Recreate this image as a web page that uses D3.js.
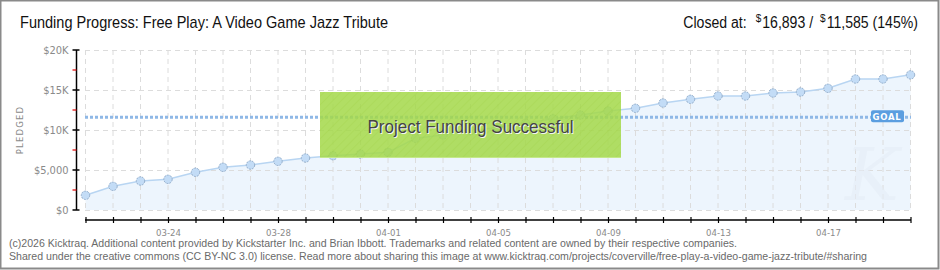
<!DOCTYPE html>
<html lang="en">
<head>
    <meta charset="UTF-8">
    <title>Kicktraq - Funding Progress</title>
    <script src="https://d3js.org/d3.v7.min.js"></script>
    <style>
        body { margin: 0; background: #fff; }
        svg { display: block; }
    </style>
</head>
<body>
    <script>
        // ---------- data ----------
        let days = ["03-21","03-22","03-23","03-24","03-25","03-26","03-27","03-28","03-29","03-30","03-31",
                    "04-01","04-02","04-03","04-04","04-05","04-06","04-07","04-08","04-09","04-10",
                    "04-11","04-12","04-13","04-14","04-15","04-16","04-17","04-18","04-19","04-20"];
        let pledged = [1837, 2962, 3625, 3837, 4712, 5337, 5625, 6087, 6500, 6787, 7000,
                       7212, 8962, 9375, 9912, 10350, 10850, 11400, 11875, 12375, 12712,
                       13375, 13837, 14250, 14250, 14625, 14750, 15212, 16375, 16375, 16893];
        let goal = 11585;
        let yTicks = [0, 5000, 10000, 15000, 20000];
        let yTickLabels = ["$0", "$5,000", "$10K", "$15K", "$20K"];
        let yMinor = [2500, 7500, 12500, 17500];
        let xLabelDays = ["03-24", "03-28", "04-01", "04-05", "04-09", "04-13", "04-17"];

        let W = 940, H = 270;
        let svg = d3.select("body").append("svg")
                    .attr("width", W)
                    .attr("height", H);

        // outer frame
        svg.append("rect")
           .attr("x", 0.5).attr("y", 0.5)
           .attr("width", W - 2).attr("height", H - 2)
           .attr("fill", "#fff")
           .attr("stroke", "#8a8a8a")
           .attr("stroke-width", 2);

        let x = d3.scalePoint().domain(days).range([85.5, 910.5]);
        let y = d3.scaleLinear().domain([0, 20000]).range([210, 50]);

        // hatch pattern for the success box
        let defs = svg.append("defs");
        let pat = defs.append("pattern")
                      .attr("id", "hatch")
                      .attr("width", 6).attr("height", 6)
                      .attr("patternUnits", "userSpaceOnUse")
                      .attr("patternTransform", "rotate(45)");
        pat.append("line")
           .attr("x1", 0).attr("y1", 0).attr("x2", 0).attr("y2", 6)
           .attr("stroke", "#9ccc40").attr("stroke-width", 1.5);

        // area + line
        let area = d3.area()
                     .x((d, i) => x(days[i]))
                     .y0(y(0))
                     .y1(d => y(d));
        svg.append("path")
           .datum(pledged)
           .attr("d", area)
           .attr("fill", "#edf5fd");

        // grid
        let grid = svg.append("g")
                      .attr("stroke", "#dcdcdc")
                      .attr("stroke-dasharray", "5,4")
                      .attr("stroke-width", 1);
        grid.selectAll("line.v")
            .data(days)
            .enter()
            .append("line")
            .attr("x1", d => x(d)).attr("x2", d => x(d))
            .attr("y1", 50).attr("y2", 210);
        grid.selectAll("line.h")
            .data(yTicks)
            .enter()
            .append("line")
            .attr("x1", 85).attr("x2", 911)
            .attr("y1", d => Math.round(y(d)) + 0.5)
            .attr("y2", d => Math.round(y(d)) + 0.5);

        // watermark
        svg.append("text")
           .attr("x", 872).attr("y", 200)
           .attr("text-anchor", "middle")
           .attr("font-family", "DejaVu Serif")
           .attr("font-style", "italic")
           .attr("font-size", 72)
           .attr("fill", "#e6eef7")
           .attr("opacity", 0.6)
           .text("K");

        let line = d3.line()
                     .x((d, i) => x(days[i]))
                     .y(d => y(d));
        svg.append("path")
           .datum(pledged)
           .attr("d", line)
           .attr("fill", "none")
           .attr("stroke", "#b8d5f2")
           .attr("stroke-width", 1.5);

        // goal line
        svg.append("line")
           .attr("x1", 85).attr("x2", 911)
           .attr("y1", y(goal)).attr("y2", y(goal))
           .attr("stroke", "#8fb8e6")
           .attr("stroke-width", 3)
           .attr("stroke-dasharray", "3,2");

        // points
        svg.selectAll("circle")
           .data(pledged)
           .enter()
           .append("circle")
           .attr("cx", (d, i) => x(days[i]))
           .attr("cy", d => y(d))
           .attr("r", 4.2)
           .attr("fill", "#c3dcf6")
           .attr("stroke", "#94aecb")
           .attr("stroke-width", 1)
           .attr("stroke-dasharray", "2,1");

        // goal label
        let gx = 871, gy = y(goal) - 7;
        svg.append("rect")
           .attr("x", gx).attr("y", gy)
           .attr("width", 33).attr("height", 12)
           .attr("rx", 2)
           .attr("fill", "#5b9ee0");
        svg.append("text")
           .attr("x", gx + 16).attr("y", gy + 9.5)
           .attr("text-anchor", "middle")
           .attr("font-family", "DejaVu Sans")
           .attr("font-weight", "bold")
           .attr("font-size", 8.5)
           .attr("letter-spacing", 0.8)
           .attr("fill", "#fff")
           .text("GOAL");

        // success box
        let bx = 320, by = 92, bw = 301, bh = 66;
        svg.append("rect")
           .attr("x", bx).attr("y", by)
           .attr("width", bw).attr("height", bh)
           .attr("fill", "#a4d84b")
           .attr("opacity", 0.86);
        svg.append("rect")
           .attr("x", bx).attr("y", by)
           .attr("width", bw).attr("height", bh)
           .attr("fill", "url(#hatch)")
           .attr("opacity", 0.3);
        svg.append("line")
           .attr("x1", bx).attr("x2", bx + bw)
           .attr("y1", by + bh - 0.5).attr("y2", by + bh - 0.5)
           .attr("stroke", "#c4e88a");
        let msg = "Project Funding Successful";
        svg.append("text")
           .attr("x", bx + bw / 2 + 1).attr("y", by + 41 + 1)
           .attr("text-anchor", "middle")
           .attr("font-family", "Liberation Sans Narrow, Arial Narrow, sans-serif")
           .attr("font-size", 19)
           .attr("textLength", 206)
           .attr("lengthAdjust", "spacingAndGlyphs")
           .attr("fill", "#f4f4f4")
           .text(msg);
        svg.append("text")
           .attr("x", bx + bw / 2).attr("y", by + 41)
           .attr("text-anchor", "middle")
           .attr("font-family", "Liberation Sans Narrow, Arial Narrow, sans-serif")
           .attr("font-size", 19)
           .attr("textLength", 206)
           .attr("lengthAdjust", "spacingAndGlyphs")
           .attr("fill", "#444")
           .text(msg);

        // y axis
        let yAxis = svg.append("g").attr("transform", "translate(76.5,0)");
        yAxis.append("line")
             .attr("y1", 50).attr("y2", 210)
             .attr("stroke", "#000").attr("stroke-width", 1.5);
        yAxis.selectAll("line.maj")
             .data(yTicks)
             .enter()
             .append("line")
             .attr("x1", -4).attr("x2", 3)
             .attr("y1", d => y(d)).attr("y2", d => y(d))
             .attr("stroke", "#000").attr("stroke-width", 1.5);
        yAxis.selectAll("line.min")
             .data(yMinor)
             .enter()
             .append("line")
             .attr("x1", -4).attr("x2", 0)
             .attr("y1", d => y(d)).attr("y2", d => y(d))
             .attr("stroke", "#e00000").attr("stroke-width", 1.2);
        yAxis.selectAll("text")
             .data(yTicks)
             .enter()
             .append("text")
             .attr("x", -8)
             .attr("y", d => y(d) + 4)
             .attr("text-anchor", "end")
             .attr("font-family", "DejaVu Sans Condensed, DejaVu Sans")
             .attr("font-size", 11)
             .attr("fill", "#8a8a8a")
             .text((d, i) => yTickLabels[i]);

        svg.append("text")
           .attr("transform", "translate(23,130) rotate(-90)")
           .attr("text-anchor", "middle")
           .attr("font-family", "DejaVu Sans")
           .attr("font-size", 8.5)
           .attr("letter-spacing", 1.2)
           .attr("fill", "#8a8a8a")
           .text("PLEDGED");

        // x axis
        let xAxis = d3.axisBottom(x)
                      .tickSize(0)
                      .tickFormat(d => xLabelDays.includes(d) ? d : "");
        let gX = svg.append("g")
                    .attr("transform", "translate(0,220)")
                    .call(xAxis);
        gX.select(".domain").remove();
        gX.append("line")
          .attr("x1", 85).attr("x2", 911)
          .attr("stroke", "#000").attr("stroke-width", 1.5);
        gX.selectAll(".tick").append("line")
          .attr("y1", -3).attr("y2", 3)
          .attr("stroke", "#000").attr("stroke-width", 1.2);
        gX.selectAll(".tick text")
          .attr("y", 9)
          .attr("font-family", "DejaVu Sans Condensed, DejaVu Sans")
          .attr("font-size", 9.5)
          .attr("fill", "#8a8a8a");

        // title
        svg.append("text")
           .attr("x", 20).attr("y", 28)
           .attr("font-family", "Liberation Sans Narrow, Arial Narrow, sans-serif")
           .attr("font-size", 17)
           .attr("textLength", 368)
           .attr("lengthAdjust", "spacingAndGlyphs")
           .attr("fill", "#111")
           .text("Funding Progress: Free Play: A Video Game Jazz Tribute");

        // "Closed at" pieces, laid out right to left
        let closedParts = [
            {t: "11,585 (145%)", size: 16, dy: 0, gap: 1},
            {t: "$", size: 10, dy: -6, gap: 7},
            {t: "16,893 /", size: 16, dy: 0, gap: 1},
            {t: "$", size: 10, dy: -6, gap: 9},
            {t: "Closed at:", size: 16, dy: 0, gap: 0}
        ];
        let cx = 918;
        closedParts.forEach(p => {
            let t = svg.append("text")
                       .attr("x", cx).attr("y", 28 + p.dy)
                       .attr("text-anchor", "end")
                       .attr("font-family", "Liberation Sans Narrow, Arial Narrow, sans-serif")
                       .attr("font-size", p.size)
                       .attr("fill", "#111")
                       .text(p.t);
            let w = t.node().getComputedTextLength();
            if (p.size > 12) {
                // squeeze a bit, like the condensed original
                t.attr("textLength", w * 0.88).attr("lengthAdjust", "spacingAndGlyphs");
                w = w * 0.88;
            }
            cx -= w + p.gap;
        });

        // footer
        let foot = svg.append("g")
                      .attr("font-family", "Liberation Sans Narrow, Arial Narrow, sans-serif")
                      .attr("font-size", 11)
                      .attr("fill", "#6a6a6a");
        foot.append("text")
            .attr("x", 9).attr("y", 247)
            .attr("textLength", 728)
            .attr("lengthAdjust", "spacingAndGlyphs")
            .text("(c)2026 Kicktraq. Additional content provided by Kickstarter Inc. and Brian Ibbott. Trademarks and related content are owned by their respective companies.");
        foot.append("text")
            .attr("x", 9).attr("y", 260)
            .attr("textLength", 858)
            .attr("lengthAdjust", "spacingAndGlyphs")
            .text("Shared under the creative commons (CC BY-NC 3.0) license. Read more about sharing this image at www.kicktraq.com/projects/coverville/free-play-a-video-game-jazz-tribute/#sharing");
    </script>
</body>
</html>
